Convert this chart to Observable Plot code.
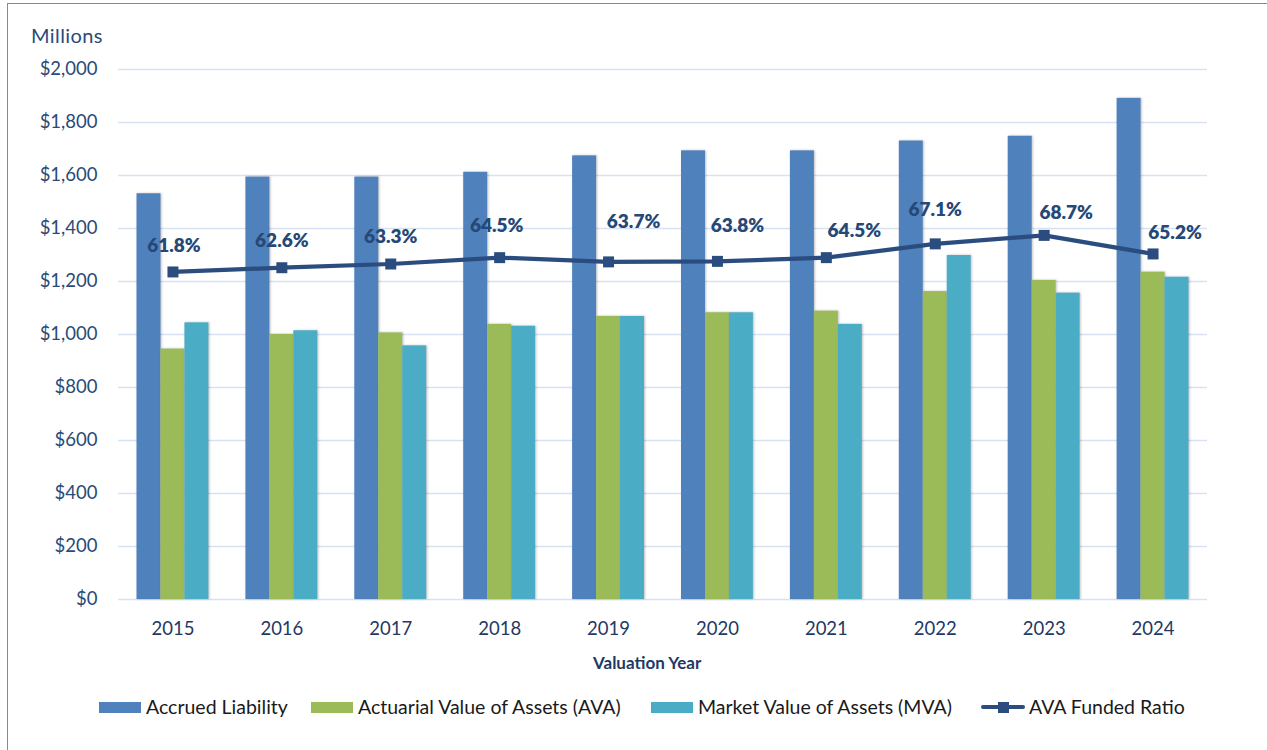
<!DOCTYPE html>
<html>
<head>
<meta charset="utf-8">
<script src="https://cdn.jsdelivr.net/npm/d3@7"></script>
<script src="https://cdn.jsdelivr.net/npm/@observablehq/plot@0.6"></script>
<style>
  body { margin: 0; background: #fff; font-family: Lato, "Open Sans", sans-serif; }
  #wrap { position: relative; width: 1267px; height: 750px; overflow: hidden; background: #fff; }
  #frame { position: absolute; left: 7px; top: 3px; width: 1300px; height: 800px; border: 1px solid #8a8a8a; pointer-events: none; }
  .txt { position: absolute; white-space: nowrap; }
  .sw { position: absolute; height: 11px; }
  g[aria-label="bar"] { filter: drop-shadow(1.5px 0.5px 1.2px rgba(0,0,0,0.25)); }
</style>
</head>
<body>
<div id="wrap">
  <div id="chart"></div>
  <div id="overlay"></div>
  <div id="frame"></div>
</div>
<script>
// ---- data ----
const years = [2015, 2016, 2017, 2018, 2019, 2020, 2021, 2022, 2023, 2024];
const accruedLiability = [1531, 1594, 1594, 1612, 1674, 1693, 1693, 1730, 1748, 1891];
const actuarialValue   = [945, 1000, 1006, 1038, 1068, 1082, 1088, 1162, 1204, 1235];
const marketValue      = [1044, 1014, 957, 1031, 1068, 1082, 1038, 1298, 1156, 1216];
const fundedRatio      = [61.8, 62.6, 63.3, 64.5, 63.7, 63.8, 64.5, 67.1, 68.7, 65.2];
const seriesNames = ["Accrued Liability", "Actuarial Value of Assets (AVA)", "Market Value of Assets (MVA)", "AVA Funded Ratio"];
const yTicks = [0, 200, 400, 600, 800, 1000, 1200, 1400, 1600, 1800, 2000];

// ---- layout / style ----
const colors = ["#4f81bd", "#9bbb59", "#4bacc6", "#2b4c7e"];
const labelNudge = [[1,-26],[0,-27],[0,-27],[-3,-32],[25,-40],[20,-35],[28,-27],[0,-34],[22,-22],[22,-21]];
const W = 1267, H = 750, mL = 118, mR = 60, mT = 69, mB = 151;
const padIn = 0.34, padOut = 0.17;
const step = (W - mL - mR) / (years.length - padIn + 2 * padOut);
const bw = step * (1 - padIn);

// secondary (hidden) ratio axis: 0%–100% spans the same range as $0–$2,000
const ratioToY = d3.scaleLinear([0, 100], [0, 2000]);

const rows = years.map((y, i) => ({
  year: String(y), al: accruedLiability[i], ava: actuarialValue[i], mva: marketValue[i], ratio: fundedRatio[i]
}));

const labelMarks = rows.map((d, i) => Plot.text([d], {
  x: "year", y: r => ratioToY(r.ratio), text: r => r.ratio.toFixed(1) + "%",
  dx: labelNudge[i][0], dy: labelNudge[i][1],
  fill: "#264876", fontSize: 19, fontWeight: 800, textAnchor: "middle"
}));

const chart = Plot.plot({
  width: W, height: H,
  marginLeft: mL, marginRight: mR, marginTop: mT, marginBottom: mB,
  style: { fontFamily: "Lato, 'Open Sans', sans-serif", background: "transparent", overflow: "visible" },
  x: { type: "band", domain: years.map(String), paddingInner: padIn, paddingOuter: padOut, round: false, label: null },
  y: { domain: [0, 2000], label: null },
  marks: [
    Plot.gridY(yTicks, { stroke: "#d6e1f1", strokeOpacity: 1, strokeWidth: 1.6 }),
    Plot.barY(rows, { x: "year", y: "al", fill: colors[0], insetLeft: 0, insetRight: bw * 2 / 3 }),
    Plot.barY(rows, { x: "year", y: "ava", fill: colors[1], insetLeft: bw / 3, insetRight: bw / 3 }),
    Plot.barY(rows, { x: "year", y: "mva", fill: colors[2], insetLeft: bw * 2 / 3, insetRight: 0 }),
    Plot.line(rows, { x: "year", y: d => ratioToY(d.ratio), stroke: colors[3], strokeWidth: 4.2 }),
    Plot.dot(rows, { x: "year", y: d => ratioToY(d.ratio), symbol: "square", r: 6.2, fill: colors[3], stroke: "none" }),
    ...labelMarks,
    Plot.axisY({ ticks: yTicks, tickSize: 0, tickPadding: 21, tickFormat: d => "$" + d3.format(",")(d),
                 fontSize: 18.5, color: "#2a4a78", label: null }),
    Plot.axisX({ tickSize: 0, tickPadding: 22, fontSize: 18.5, color: "#1f3864", label: null })
  ]
});
document.getElementById("chart").appendChild(chart);

// ---- overlay texts & legend ----
const ov = document.getElementById("overlay");
function addText(txt, left, top, style) {
  const el = document.createElement("div");
  el.className = "txt"; el.textContent = txt;
  el.style.left = left + "px"; el.style.top = top + "px";
  Object.assign(el.style, style || {});
  ov.appendChild(el); return el;
}
addText("Millions", 31, 23, { fontSize: "20px", color: "#2a4a78", letterSpacing: "0.4px" });
const vy = addText("Valuation Year", 0, 652, { fontSize: "17px", fontWeight: "bold", color: "#1f3864" });
vy.style.left = (647 - vy.offsetWidth / 2) + "px";

const legendX = [99, 311, 651, 981];
seriesNames.forEach((name, i) => {
  const x = legendX[i];
  if (i < 3) {
    const sw = document.createElement("div");
    sw.className = "sw";
    Object.assign(sw.style, { left: x + "px", top: "702px", width: "42px", background: colors[i] });
    ov.appendChild(sw);
    addText(name, x + 47, 695, { fontSize: "19.5px", color: "#1a1a1a" });
  } else {
    const ln = document.createElement("div");
    Object.assign(ln.style, { position: "absolute", left: x + "px", top: "705px", width: "44px", height: "4px", background: colors[3], borderRadius: "2px" });
    ov.appendChild(ln);
    const sq = document.createElement("div");
    Object.assign(sq.style, { position: "absolute", left: (x + 17) + "px", top: "701.5px", width: "11px", height: "11px", background: colors[3] });
    ov.appendChild(sq);
    addText(name, x + 48, 695, { fontSize: "19.5px", color: "#1a1a1a" });
  }
});
</script>
</body>
</html>
